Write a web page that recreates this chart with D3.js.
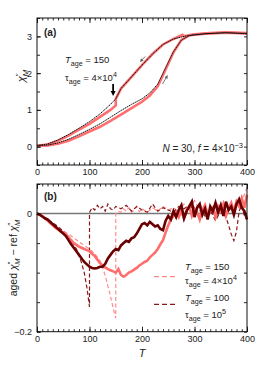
<!DOCTYPE html>
<html>
<head>
<meta charset="utf-8">
<script src="https://cdn.jsdelivr.net/npm/d3@7"></script>
<style>
  body { margin: 0; background: #fff; }
  svg text { font-family: "Liberation Sans", Arial, sans-serif; fill: #222; }
</style>
</head>
<body>
<div id="chart-area"></div>
<script>
// ---- panel (a) data: chi''_M vs T ----
let refCoolT = [0, 20, 40, 60, 80, 100, 120, 140, 150, 160, 180, 200, 220, 240, 260, 280, 300, 330, 360, 400];
let refCool  = [0.03, 0.07, 0.18, 0.33, 0.5, 0.68, 0.89, 1.15, 1.3, 1.58, 1.9, 2.22, 2.52, 2.78, 2.93, 3.0, 3.05, 3.08, 3.1, 3.08];
let refHeatT = [0, 20, 40, 60, 80, 100, 120, 140, 160, 180, 200, 215, 230, 245, 260, 275, 290, 320, 360, 400];
let refHeat  = [0.03, 0.04, 0.1, 0.2, 0.33, 0.47, 0.62, 0.8, 0.98, 1.15, 1.3, 1.46, 1.7, 2.15, 2.58, 2.9, 3.02, 3.07, 3.1, 3.07];

let agedCoolT = [0, 20, 40, 60, 80, 100, 120, 140, 150, 150, 160, 180, 200, 220, 240, 260, 277, 280, 300, 330, 360, 400];
let agedCool  = [0.02, 0.06, 0.16, 0.3, 0.46, 0.62, 0.81, 1.0, 1.12, 1.3, 1.58, 1.9, 2.22, 2.52, 2.78, 2.93, 3.04, 3.0, 3.06, 3.09, 3.11, 3.09];
let agedHeatT = refHeatT;
let agedHeat  = [0.02, 0.03, 0.08, 0.16, 0.28, 0.41, 0.54, 0.7, 0.87, 1.05, 1.22, 1.39, 1.64, 2.1, 2.57, 2.9, 3.03, 3.07, 3.1, 3.08];

// ---- panel (b) data: aged - ref ----
let gridT = d3.range(0, 401, 5);
let diff150Heat = [0, -0.002, -0.004, -0.008, -0.012, -0.016, -0.02, -0.024, -0.027, -0.03,
  -0.032, -0.035, -0.04, -0.045, -0.05, -0.053, -0.056, -0.058, -0.06, -0.062,
  -0.064, -0.068, -0.072, -0.078, -0.084, -0.088, -0.091, -0.094, -0.096, -0.098,
  -0.1, -0.094, -0.104, -0.107, -0.104, -0.1, -0.098, -0.095, -0.092, -0.088,
  -0.085, -0.082, -0.08, -0.074, -0.07, -0.066, -0.06, -0.052, -0.045, -0.032,
  -0.02, -0.01, -0.004, 0.002, -0.006, 0.004, -0.008, 0.006, 0.012, -0.004,
  0.008, 0.002, -0.01, 0.006, 0.014, -0.002, 0.004, 0.01, -0.006, 0.012,
  0.004, 0.016, -0.004, 0.008, 0.018, 0.004, 0.02, 0.012, 0.026, 0.01, 0.032];
let diff100Heat = [0, -0.002, -0.005, -0.008, -0.01, -0.014, -0.018, -0.022, -0.026, -0.03,
  -0.034, -0.038, -0.045, -0.052, -0.058, -0.064, -0.07, -0.076, -0.082, -0.086,
  -0.09, -0.092, -0.093, -0.092, -0.09, -0.09, -0.085, -0.076, -0.07, -0.064,
  -0.06, -0.062, -0.054, -0.05, -0.046, -0.048, -0.042, -0.04, -0.034, -0.026,
  -0.018, -0.016, -0.02, -0.014, -0.018, -0.022, -0.02, -0.026, -0.028, -0.012,
  -0.004, -0.01, 0.004, -0.006, 0.006, 0.014, -0.008, 0.004, 0.012, 0.02,
  -0.006, 0.01, 0.016, -0.002, 0.008, -0.01, 0.012, 0.004, 0.018, 0.002,
  0.014, -0.004, 0.02, 0.006, 0.012, -0.002, 0.016, 0.024, 0.01, 0.004, -0.01];

let diff150CoolT = [0, 10, 20, 30, 40, 50, 60, 70, 80, 90, 100, 110, 120, 130, 140, 145, 150, 150,
  155, 160, 165, 170, 175, 180, 185, 190, 195, 200, 210, 220, 230, 240, 250, 260, 270, 280,
  290, 300, 310, 320, 330, 340, 350, 360, 370, 380, 390, 400];
let diff150Cool = [0, -0.004, -0.01, -0.017, -0.023, -0.03, -0.035, -0.041, -0.048, -0.054, -0.06, -0.068, -0.08, -0.105, -0.14, -0.16, -0.177, 0.0,
  0.004, 0.002, 0.008, 0.004, 0.01, 0.002, 0.006, 0.012, 0.003, 0.008, 0.002, 0.01, 0.004, 0.012, 0.006, 0.01, 0.002, 0.016,
  0.006, 0.022, 0.004, 0.01, 0.002, 0.008, 0.014, 0.004, 0.01, 0.016, 0.02, 0.044];
let diff100CoolT = [0, 10, 20, 30, 40, 50, 60, 70, 75, 80, 85, 90, 95, 100, 100,
  105, 110, 115, 120, 125, 130, 135, 140, 145, 150, 160, 170, 180, 190, 200, 210, 220, 230, 240,
  250, 260, 270, 280, 290, 300, 310, 320, 330, 340, 350, 360, 365, 370, 375, 380, 385, 390, 395, 400];
let diff100Cool = [0, -0.004, -0.01, -0.016, -0.022, -0.03, -0.04, -0.052, -0.06, -0.07, -0.084, -0.1, -0.125, -0.158, 0.002,
  0.01, 0.006, 0.014, 0.008, 0.012, 0.004, 0.016, 0.008, 0.006, 0.012, 0.008, 0.014, 0.004, 0.012, 0.006, 0.002, 0.016, 0.004, 0.01,
  0.006, 0.002, 0.012, 0.008, 0.014, 0.006, 0.01, -0.004, 0.006, -0.012, 0.004, -0.006, -0.02, -0.035, -0.046, -0.03, 0.004, 0.014, -0.004, -0.01];

let xTicksMajor = [0, 100, 200, 300, 400];
let aTicks = [0, 1, 2, 3];
let bTicks = [0, -0.2];

// colours
let lightRed = '#ff6e6e', lightRedDash = '#ff8c8c', darkRed = '#6a0000', darkRedDash = '#8a1a1a';

let W = 266, H = 369;
let svg = d3.select('#chart-area').append('svg')
  .attr('width', W).attr('height', H);

let x = d3.scaleLinear().domain([0, 400]).range([37, 247]);
let yA = d3.scaleLinear().domain([-0.5, 3.5]).range([165, 18]);
let yB = d3.scaleLinear().domain([-0.2, 0.05]).range([331.7, 184]);

function frame(y, yMajor, yMinor, yFmt, showX) {
  let g = svg.append('g');
  let [y0, y1] = y.range();
  // x ticks bottom + top
  let bot = g.append('g').attr('transform', 'translate(0,' + y0 + ')');
  bot.call(d3.axisBottom(x).tickValues(d3.range(0, 401, 10)).tickSize(-2.5).tickFormat(''));
  let botMaj = g.append('g').attr('transform', 'translate(0,' + y0 + ')');
  botMaj.call(d3.axisBottom(x).tickValues(xTicksMajor).tickSize(-5).tickPadding(4)
    .tickFormat(showX ? d3.format('d') : ''));
  let top = g.append('g').attr('transform', 'translate(0,' + y1 + ')');
  top.call(d3.axisTop(x).tickValues(d3.range(0, 401, 10)).tickSize(-2.5).tickFormat(''));
  g.append('g').attr('transform', 'translate(0,' + y1 + ')')
    .call(d3.axisTop(x).tickValues(xTicksMajor).tickSize(-5).tickFormat(''));
  // y ticks left + right
  g.append('g').attr('transform', 'translate(37,0)')
    .call(d3.axisLeft(y).tickValues(yMinor).tickSize(-3).tickFormat(''));
  g.append('g').attr('transform', 'translate(37,0)')
    .call(d3.axisLeft(y).tickValues(yMajor).tickSize(-4).tickPadding(5).tickFormat(yFmt));
  g.append('g').attr('transform', 'translate(247,0)')
    .call(d3.axisRight(y).tickValues(yMinor).tickSize(-3).tickFormat(''));
  g.selectAll('.domain').remove();
  g.selectAll('.tick line').attr('stroke', '#111').attr('stroke-width', 0.9);
  g.selectAll('.tick text').style('font-size', '9px').attr('fill', '#222');
  g.append('rect').attr('x', 37).attr('y', y1).attr('width', 210).attr('height', y0 - y1)
    .attr('fill', 'none').attr('stroke', '#111').attr('stroke-width', 1);
}

// ---------- panel (a) ----------
let lineA = (ts) => d3.line().x((d, i) => x(ts[i])).y(d => yA(d));
let gA = svg.append('g');
gA.append('path').attr('d', lineA(agedHeatT)(agedHeat)).attr('fill', 'none')
  .attr('stroke', lightRed).attr('stroke-width', 2.6);
gA.append('path').attr('d', lineA(agedCoolT)(agedCool)).attr('fill', 'none')
  .attr('stroke', lightRed).attr('stroke-width', 2.6);
gA.append('path').attr('d', lineA(refHeatT)(refHeat)).attr('fill', 'none')
  .attr('stroke', '#111').attr('stroke-width', 1).attr('stroke-dasharray', '1.6,0.6');
gA.append('path').attr('d', lineA(refCoolT)(refCool)).attr('fill', 'none')
  .attr('stroke', '#111').attr('stroke-width', 1).attr('stroke-dasharray', '1.6,0.6');

frame(yA, aTicks, d3.range(-0.5, 3.51, 0.5), d3.format('d'), true);

// arrows
function arrow(x1, y1, x2, y2, col, w, hs) {
  let ang = Math.atan2(y2 - y1, x2 - x1);
  svg.append('line').attr('x1', x1).attr('y1', y1)
    .attr('x2', x2 - Math.cos(ang) * hs * 0.8).attr('y2', y2 - Math.sin(ang) * hs * 0.8)
    .attr('stroke', col).attr('stroke-width', w);
  let p1 = [x2 - hs * Math.cos(ang) + hs * 0.5 * Math.sin(ang), y2 - hs * Math.sin(ang) - hs * 0.5 * Math.cos(ang)];
  let p2 = [x2 - hs * Math.cos(ang) - hs * 0.5 * Math.sin(ang), y2 - hs * Math.sin(ang) + hs * 0.5 * Math.cos(ang)];
  svg.append('path').attr('d', 'M' + x2 + ',' + y2 + 'L' + p1 + 'L' + p2 + 'Z').attr('fill', col);
}
arrow(x(145), 84, x(145), 96, '#000', 1.8, 5);
arrow(x(206), 56.5, x(196), 62, '#666', 0.9, 3.5);
arrow(x(239), 84, x(249), 75, '#666', 0.9, 3.5);

function richText(g, xx, yy, parts, size, anchor) {
  let t = g.append('text').attr('x', xx).attr('y', yy).style('font-size', size + 'px')
    .attr('text-anchor', anchor || 'start');
  parts.forEach(p => {
    let s = t.append('tspan').text(p.t);
    if (p.i) s.style('font-style', 'italic');
    if (p.b) s.style('font-weight', 'bold');
    if (p.s) s.style('font-size', (size * 0.75) + 'px');
    if (p.dy) s.attr('dy', p.dy);
  });
  return t;
}
let sub = (t) => [{t: t, s: true, dy: 2.5}];
function ageText(g, xx, yy, sym, val, sup, size) {
  let parts = [{t: sym, i: sym === 'T'}, {t: 'age', s: true, dy: 2.5}, {t: ' = ' + val, dy: -2.5}];
  if (sup) parts.push({t: sup, s: true, dy: -4});
  return richText(g, xx, yy, parts, size);
}

richText(svg, 44, 36, [{t: '(a)', b: true}], 10);
ageText(svg, 65, 63, 'T', '150', null, 9.5);
ageText(svg, 65, 81, 'τ', '4×10', '4', 9.5);
richText(svg, 243, 152, [{t: 'N', i: true}, {t: ' = 30, '}, {t: 'f', i: true}, {t: ' = 4×10'},
  {t: '−3', s: true, dy: -4}], 10, 'end');

// y label (a)
svg.append('text').attr('transform', 'translate(25,76) rotate(-90)').attr('text-anchor', 'middle')
  .style('font-size', '11px')
  .call(t => {
    t.append('tspan').text('χ').style('font-style', 'italic');
    t.append('tspan').text('″').style('font-size', '8px').attr('dy', -4);
    t.append('tspan').text('M').style('font-size', '8px').style('font-style', 'italic').attr('dx', -3).attr('dy', 7);
  });

// ---------- panel (b) ----------
let gB = svg.append('g');
gB.append('line').attr('x1', x(0)).attr('x2', x(400)).attr('y1', yB(0)).attr('y2', yB(0))
  .attr('stroke', '#777').attr('stroke-width', 1.5);
let lineB = (ts) => d3.line().x((d, i) => x(ts[i])).y(d => yB(d));
gB.append('path').attr('d', lineB(diff150CoolT)(diff150Cool)).attr('fill', 'none')
  .attr('stroke', lightRedDash).attr('stroke-width', 1.2).attr('stroke-dasharray', '4,2.5');
gB.append('path').attr('d', lineB(diff100CoolT)(diff100Cool)).attr('fill', 'none')
  .attr('stroke', darkRedDash).attr('stroke-width', 1.2).attr('stroke-dasharray', '4,2.5');
gB.append('path').attr('d', lineB(gridT)(diff150Heat)).attr('fill', 'none')
  .attr('stroke', lightRed).attr('stroke-width', 2.6);
gB.append('path').attr('d', lineB(gridT)(diff100Heat)).attr('fill', 'none')
  .attr('stroke', darkRed).attr('stroke-width', 2.6);

frame(yB, bTicks, d3.range(-0.2, 0.051, 0.05), d => d === 0 ? '0' : '−0.2', true);
richText(svg, 44, 200, [{t: '(b)', b: true}], 10);

// legend
let leg = svg.append('g');
leg.append('line').attr('x1', 154).attr('x2', 176).attr('y1', 276.7).attr('y2', 276.7)
  .attr('stroke', lightRedDash).attr('stroke-width', 1.2).attr('stroke-dasharray', '5,3');
leg.append('line').attr('x1', 154).attr('x2', 176).attr('y1', 304.3).attr('y2', 304.3)
  .attr('stroke', darkRedDash).attr('stroke-width', 1.2).attr('stroke-dasharray', '5,3');
ageText(leg, 185, 270, 'T', '150', null, 9.5);
ageText(leg, 185, 284, 'τ', '4×10', '4', 9.5);
ageText(leg, 185, 301, 'T', '100', null, 9.5);
ageText(leg, 185, 318, 'τ', '10', '5', 9.5);

// x label
richText(svg, x(200), 357, [{t: 'T', i: true}], 11, 'middle');

// y label (b)
svg.append('text').attr('transform', 'translate(17,258) rotate(-90)').attr('text-anchor', 'middle')
  .style('font-size', '10.5px')
  .call(t => {
    t.append('tspan').text('aged ');
    t.append('tspan').text('χ').style('font-style', 'italic');
    t.append('tspan').text('″').style('font-size', '7.5px').attr('dy', -4);
    t.append('tspan').text('M').style('font-size', '7.5px').style('font-style', 'italic').attr('dx', -3).attr('dy', 7);
    t.append('tspan').text(' − ref ').attr('dy', -3);
    t.append('tspan').text('χ').style('font-style', 'italic');
    t.append('tspan').text('″').style('font-size', '7.5px').attr('dy', -4);
    t.append('tspan').text('M').style('font-size', '7.5px').style('font-style', 'italic').attr('dx', -3).attr('dy', 7);
  });
</script>
</body>
</html>
